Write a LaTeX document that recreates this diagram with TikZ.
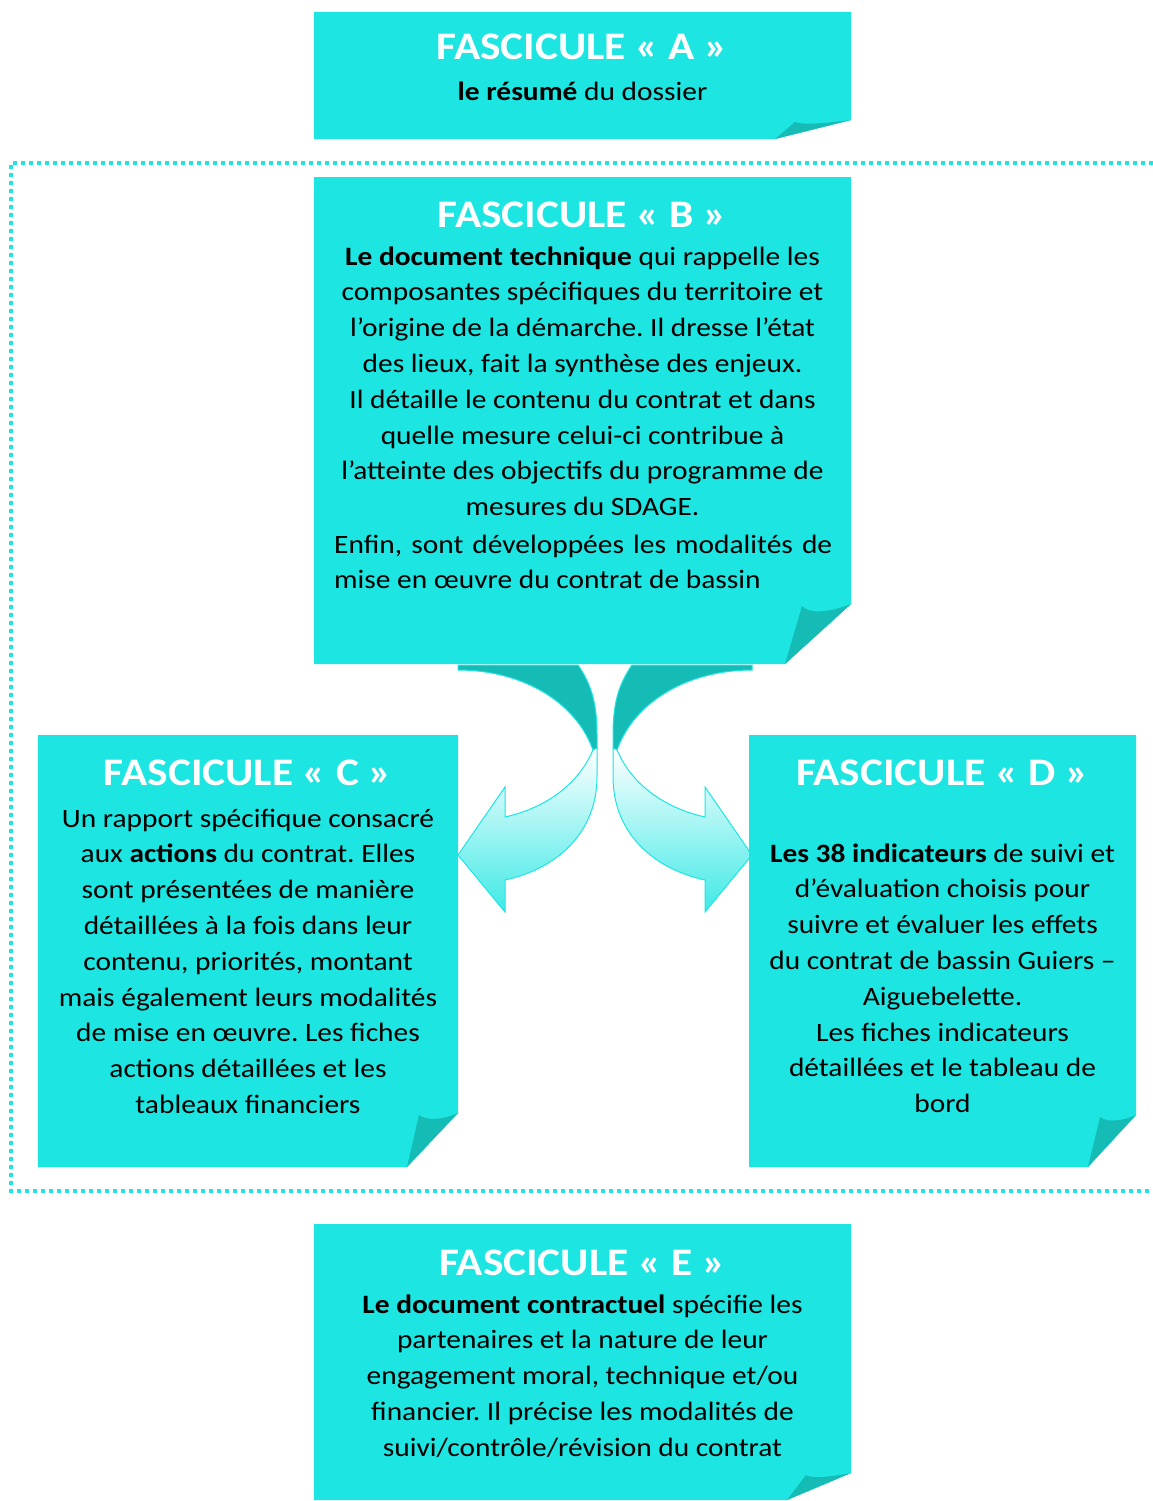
\documentclass[tikz,border=0pt]{standalone}
\usepackage{fontspec}
\setmainfont{Carlito}[FakeStretch=1.11]
\usepackage{tikz}
\frenchspacing
\definecolor{fascyan}{RGB}{29,230,226}
\definecolor{fasdark}{RGB}{21,188,182}

\begin{document}
\begin{tikzpicture}[x=1pt,y=1pt,yscale=-1,xscale=1,
  fastitle/.style={inner sep=0pt, text=white, font=\fontsize{39}{42}\selectfont\bfseries},
  fastext/.style={inner sep=0pt, align=center, font=\fontsize{26.5}{35.8}\selectfont},
  fasarrow/.style={draw=fascyan, line width=1pt},
  fasdots/.style={draw=fascyan, line width=3.5pt, dash pattern=on 4pt off 4pt}]
\useasboundingbox (0,0) rectangle (1153,1501);

%Rectangle: dotted frame
\draw[fasdots] (1153,163) -- (11,163) -- (11,1191) -- (1153,1191);

%Curved Arrow: left
\filldraw[fasarrow, fill=fasdark] (458,665) -- (578,665) .. controls (592,685) and (597,705) .. (597,735) -- (597,748) -- (593,750) .. controls (575,700) and (520,670) .. (458,670) -- cycle;
\shadedraw[fasarrow, top color=white, bottom color=fascyan!85] (593,750) .. controls (578,785) and (545,808) .. (505,817) -- (505,787) -- (458,855) -- (505,912) -- (505,880) .. controls (560,868) and (597,830) .. (597,777) -- (597,748) -- cycle;
%Curved Arrow: right
\begin{scope}[shift={(1210,0)}, xscale=-1]
\filldraw[fasarrow, fill=fasdark] (458,665) -- (578,665) .. controls (592,685) and (597,705) .. (597,735) -- (597,748) -- (593,750) .. controls (575,700) and (520,670) .. (458,670) -- cycle;
\shadedraw[fasarrow, top color=white, bottom color=fascyan!85] (593,750) .. controls (578,785) and (545,808) .. (505,817) -- (505,787) -- (458,855) -- (505,912) -- (505,880) .. controls (560,868) and (597,830) .. (597,777) -- (597,748) -- cycle;
\end{scope}

%Shape: Folded Corner A
\fill[fascyan] (314,12) -- (851,12) -- (851,120) -- (775,139) -- (314,139) -- cycle;
\fill[fasdark] (775,139) -- (795,122) .. controls (800,124) and (812,125) .. (851,120) -- cycle;
%Shape: Folded Corner B
\fill[fascyan] (314,177) -- (851,177) -- (851,604) -- (785,664) -- (314,664) -- cycle;
\fill[fasdark] (785,664) -- (802,606) .. controls (808,613) and (825,614) .. (851,604) -- cycle;
%Shape: Folded Corner C
\fill[fascyan] (38,735) -- (458,735) -- (458,1113) -- (407,1167) -- (38,1167) -- cycle;
\fill[fasdark] (407,1167) -- (419,1115) .. controls (425,1120) and (440,1121) .. (458,1113) -- cycle;
%Shape: Folded Corner D
\fill[fascyan] (749,735) -- (1136,735) -- (1136,1115) -- (1088,1167) -- (749,1167) -- cycle;
\fill[fasdark] (1088,1167) -- (1100,1117) .. controls (1106,1122) and (1120,1122) .. (1136,1115) -- cycle;
%Shape: Folded Corner E
\fill[fascyan] (314,1224) -- (851,1224) -- (851,1473) -- (787,1500) -- (314,1500) -- cycle;
\fill[fasdark] (787,1500) -- (806,1475) .. controls (811,1478) and (823,1478) .. (851,1473) -- cycle;

% Text Node (base = last line)
\node[fastitle, anchor=base] (titA) at (582.5,60) {FASCICULE « A »};
\node[fastext, anchor=base] (txtA) at (582.5,101) {\textbf{le résumé} du dossier};
% Text Node
\node[fastitle, anchor=base] (titB) at (582.5,227) {FASCICULE « B »};
\node[fastext, anchor=base] (txtB) at (582.5,515.6) {\textbf{Le document technique} qui rappelle les\\
composantes spécifiques du territoire et\\
l’origine de la démarche. Il dresse l’état\\
des lieux, fait la synthèse des enjeux.\\
Il détaille le contenu du contrat et dans\\
quelle mesure celui-ci contribue à\\
l’atteinte des objectifs du programme de\\
mesures du SDAGE.};
\node[fastext, anchor=base west, align=left] (finB) at (334,588.8) {\makebox[498pt][s]{Enfin, sont développées les modalités de}\\
mise en œuvre du contrat de bassin};
% Text Node
\node[fastitle, anchor=base] (titC) at (248,785) {FASCICULE « C »};
\node[fastext, anchor=base] (txtC) at (248,1113.4) {Un rapport spécifique consacré\\
aux \textbf{actions} du contrat. Elles\\
sont présentées de manière\\
détaillées à la fois dans leur\\
contenu, priorités, montant\\
mais également leurs modalités\\
de mise en œuvre. Les fiches\\
actions détaillées et les\\
tableaux financiers};
% Text Node
\node[fastitle, anchor=base] (titD) at (942.5,785) {FASCICULE « D »};
\node[fastext, anchor=base] (txtD) at (942.5,1112.6) {\textbf{Les 38 indicateurs} de suivi et\\
d’évaluation choisis pour\\
suivre et évaluer les effets\\
du contrat de bassin Guiers –\\
Aiguebelette.\\
Les fiches indicateurs\\
détaillées et le tableau de\\
bord};
% Text Node
\node[fastitle, anchor=base] (titE) at (582.5,1275) {FASCICULE « E »};
\node[fastext, anchor=base] (txtE) at (582.5,1456.2) {\textbf{Le document contractuel} spécifie les\\
partenaires et la nature de leur\\
engagement moral, technique et/ou\\
financier. Il précise les modalités de\\
suivi/contrôle/révision du contrat};

\end{tikzpicture}
\end{document}
